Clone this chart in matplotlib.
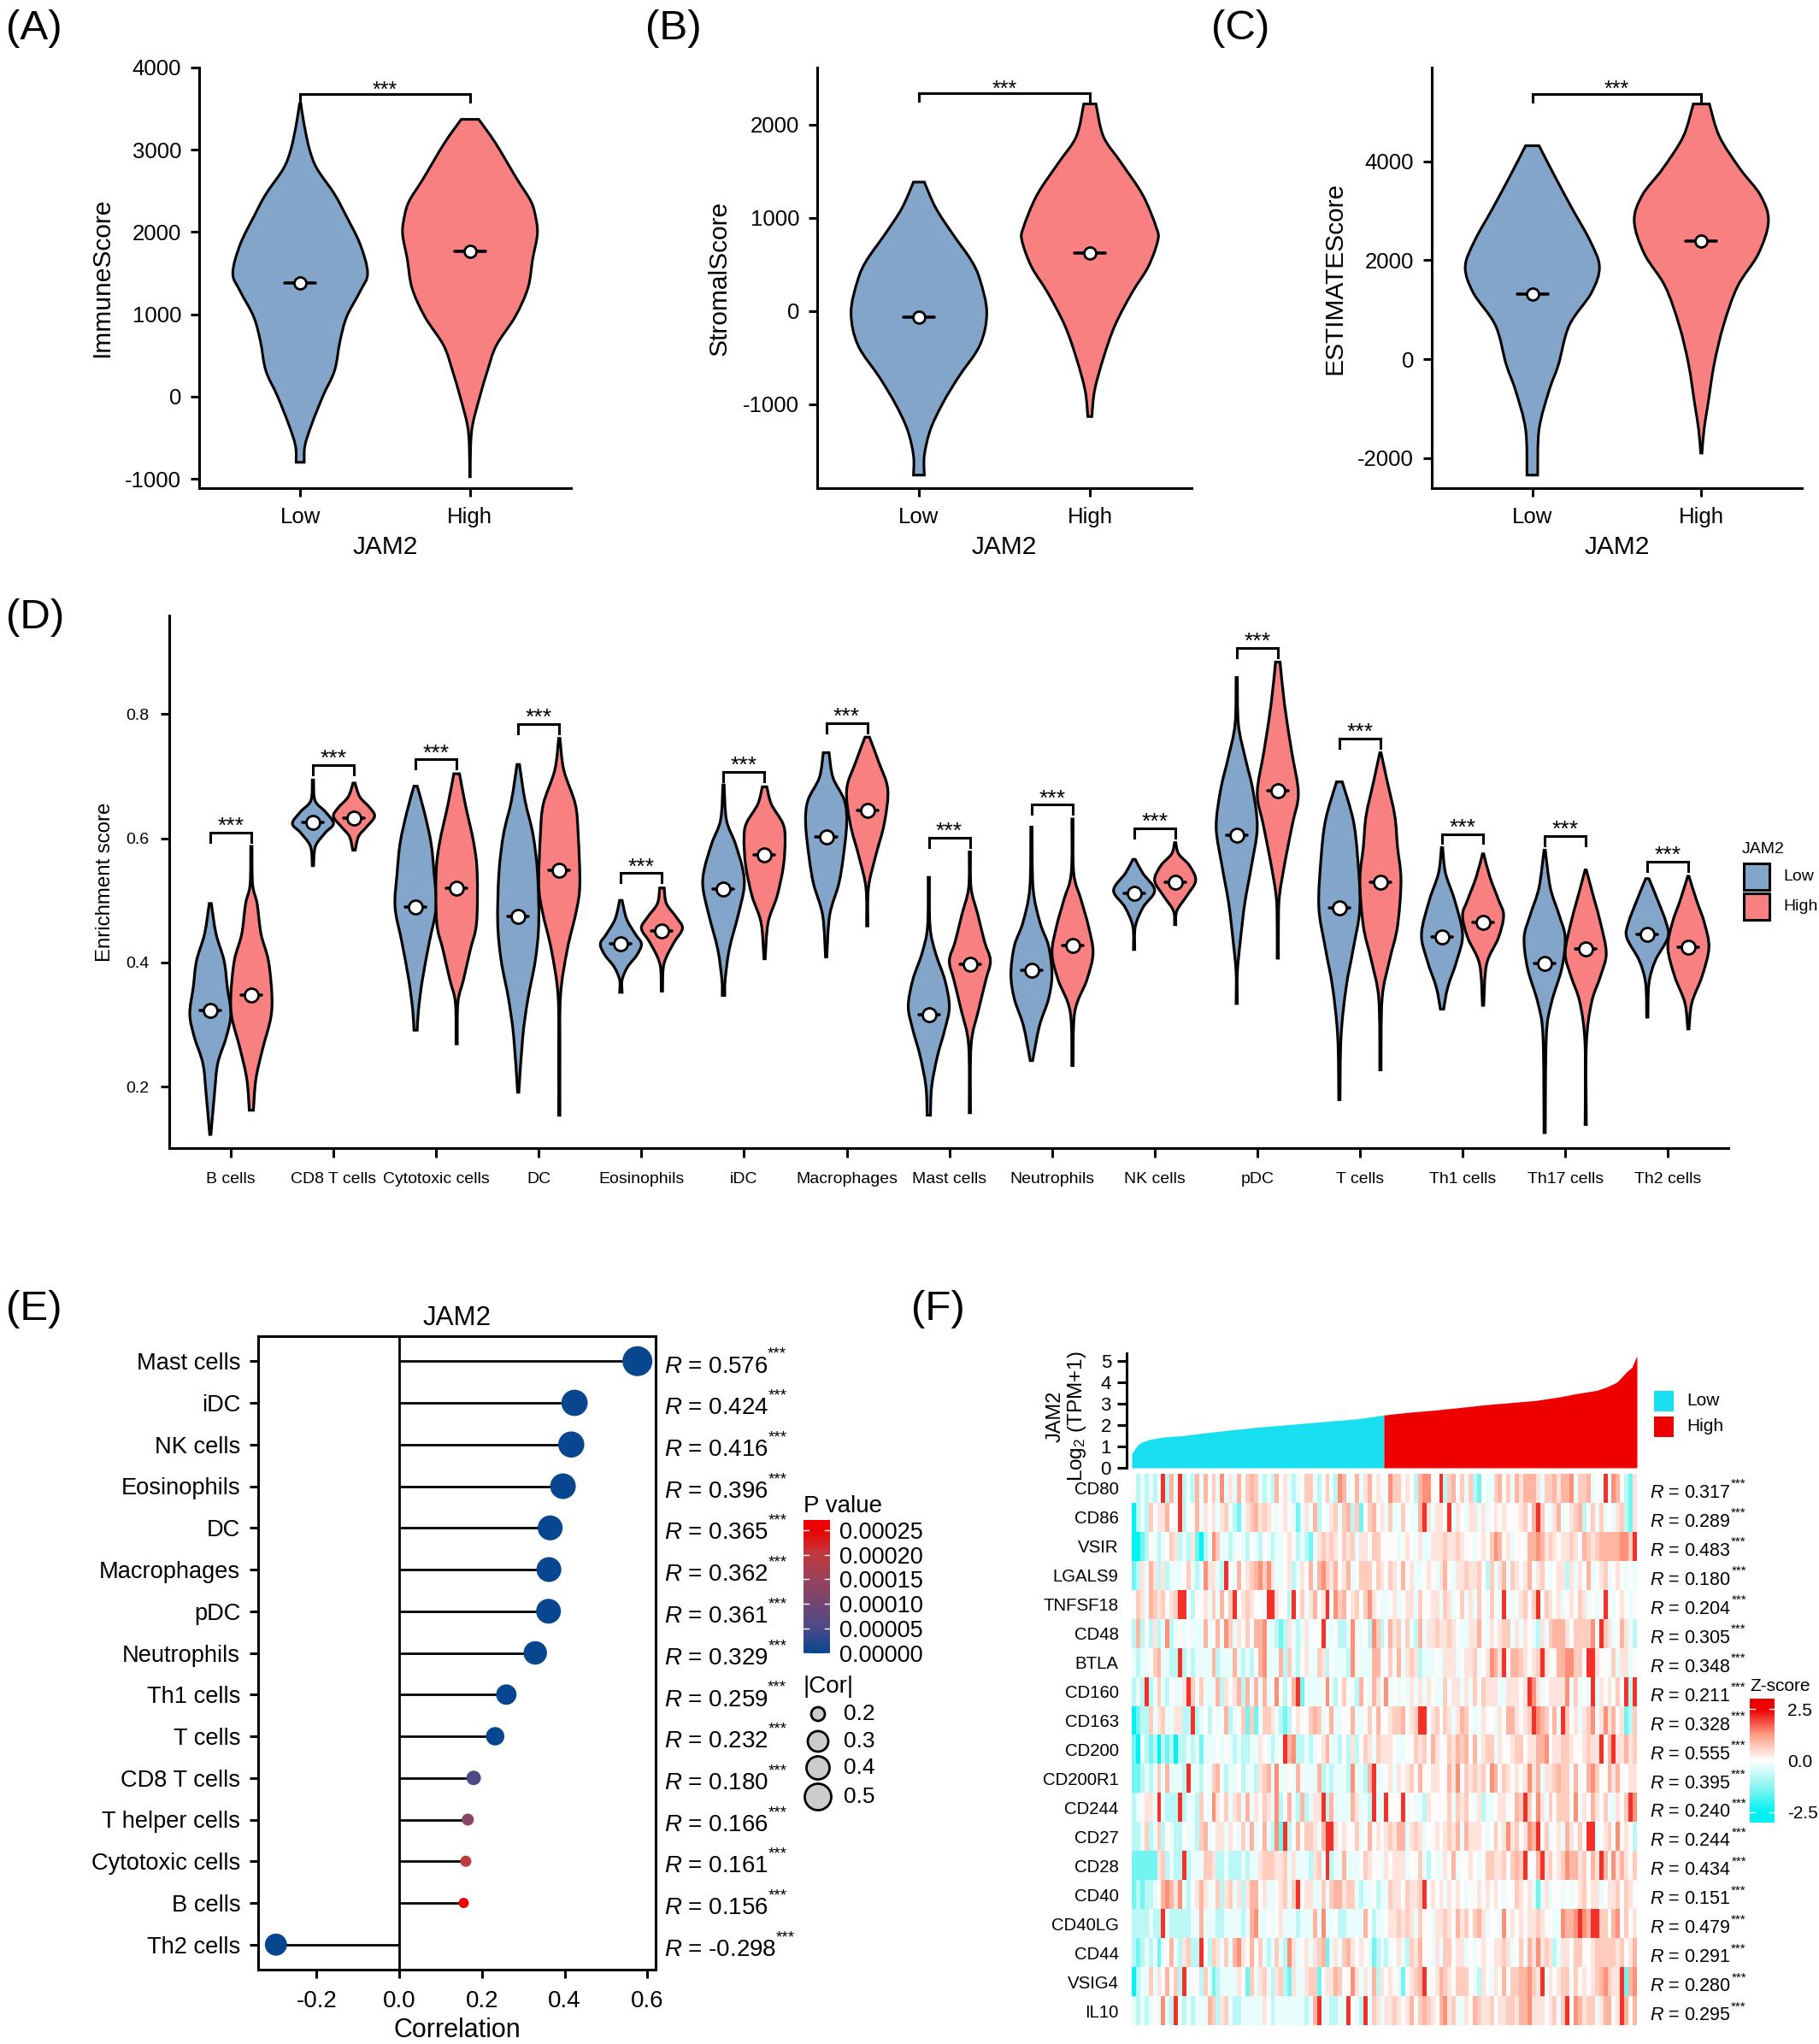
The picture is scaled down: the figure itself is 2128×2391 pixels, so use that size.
#!/usr/bin/env python3

import numpy as np
import matplotlib as mpl
mpl.use('Agg')
import matplotlib.pyplot as plt
from matplotlib.colors import LinearSegmentedColormap
from matplotlib.patches import PathPatch, Rectangle, Circle
from matplotlib.path import Path

plt.rcParams['font.family'] = ['Liberation Sans', 'DejaVu Sans']
plt.rcParams['mathtext.fontset'] = 'custom'
plt.rcParams['mathtext.rm'] = 'Liberation Sans'
plt.rcParams['mathtext.it'] = 'Liberation Sans:italic'
plt.rcParams['mathtext.bf'] = 'Liberation Sans:bold'
plt.rcParams['axes.unicode_minus'] = False

## Panels A-C: violin outlines, score value and relative density
groups = ['Low', 'High']

immune_low_y = [-800, -600, -340, 10, 315, 670, 970, 1280, 1500, 1850, 2200, 2460, 2770, 3000, 3300, 3560]
immune_low_d = [.06, .07, .17, .34, .51, .59, .69, .89, 1.0, .89, .68, .51, .25, .14, .06, .01]
immune_high_y = [-975, -600, -340, 10, 315, 620, 970, 1320, 1670, 1980, 2200, 2380, 2640, 3080, 3370]
immune_high_d = [.005, .01, .04, .15, .26, .39, .67, .86, .93, 1.0, .97, .9, .7, .38, .13]
immune_means = [1380, 1770]

stromal_low_y = [-1762, -1552, -1273, -993, -713, -364, -14, 335, 545, 825, 1105, 1385]
stromal_low_d = [.08, .08, .17, .35, .58, .9, 1.0, .9, .77, .5, .25, .08]
stromal_high_y = [-1133, -853, -503, -154, 196, 476, 755, 895, 1245, 1594, 1874, 2224]
stromal_high_d = [.03, .07, .2, .37, .62, .86, 1.0, .98, .78, .46, .2, .09]
stromal_means = [-70, 620]

estimate_low_y = [-2342, -1421, -632, -105, 684, 1342, 1868, 2395, 3053, 3710, 4316]
estimate_low_d = [.08, .1, .25, .39, .55, .88, 1.0, .86, .59, .33, .1]
estimate_high_y = [-1895, -1421, -895, -105, 684, 1474, 2132, 2790, 3316, 3842, 4500, 5158]
estimate_high_d = [.01, .04, .1, .19, .33, .54, .85, 1.0, .88, .58, .27, .12]
estimate_means = [1310, 2390]

## Panel D
cell_types = ['B cells', 'CD8 T cells', 'Cytotoxic cells', 'DC', 'Eosinophils', 'iDC', 'Macrophages',
              'Mast cells', 'Neutrophils', 'NK cells', 'pDC', 'T cells', 'Th1 cells', 'Th17 cells', 'Th2 cells']
enrich_low_means = [.323, .626, .490, .474, .430, .518, .602, .316, .387, .511, .605, .488, .441, .399, .445]
enrich_high_means = [.347, .633, .519, .549, .451, .573, .645, .397, .427, .530, .676, .529, .464, .422, .424]
enrich_brackets = [.609, .718, .727, .784, .544, .707, .786, .601, .654, .616, .907, .761, .607, .604, .562]

b_low_y = [.123, .187, .237, .280, .317, .360, .403, .446, .495]
b_low_d = [.03, .2, .36, .78, 1, .83, .67, .28, .05]
b_high_y = [.162, .212, .261, .310, .347, .403, .446, .495, .526, .587]
b_high_d = [.1, .22, .55, .94, 1, .83, .47, .28, .06, .03]
cd8_low_y = [.556, .587, .609, .624, .643, .661, .694]
cd8_low_d = [.03, .12, .6, 1, .6, .1, .03]
cd8_high_y = [.581, .603, .618, .635, .649, .667, .689]
cd8_high_d = [.06, .22, .6, 1, .78, .28, .05]
cyto_low_y = [.291, .323, .372, .433, .489, .544, .593, .643, .684]
cyto_low_d = [.08, .14, .33, .67, 1, .9, .75, .42, .08]
cyto_high_y = [.269, .335, .372, .421, .464, .544, .593, .655, .704]
cyto_high_d = [.03, .06, .33, .67, .97, 1, .83, .42, .14]
dc_low_y = [.191, .280, .341, .403, .464, .544, .606, .661, .719]
dc_low_d = [.03, .22, .47, .83, 1, .94, .72, .33, .06]
dc_high_y = [.154, .249, .347, .421, .483, .526, .606, .655, .710, .761]
dc_high_d = [.03, .03, .06, .39, .83, 1, .92, .78, .22, .03]
eos_low_y = [.352, .372, .393, .412, .430, .446, .470, .500]
eos_low_d = [.06, .06, .33, .78, 1, .7, .28, .06]
eos_high_y = [.354, .390, .409, .433, .455, .473, .495, .520]
eos_high_d = [.03, .06, .22, .6, 1, .7, .22, .11]
idc_low_y = [.347, .372, .421, .477, .520, .550, .593, .630, .686]
idc_low_d = [.06, .08, .28, .72, 1, .94, .56, .14, .03]
idc_high_y = [.406, .464, .507, .556, .599, .624, .655, .683]
idc_high_d = [.03, .17, .61, .92, 1, .89, .33, .11]
mac_low_y = [.409, .476, .526, .569, .624, .661, .698, .738]
mac_low_d = [.03, .17, .61, .83, 1, .89, .33, .14]
mac_high_y = [.459, .520, .569, .624, .679, .723, .763]
mac_high_d = [.03, .06, .39, .83, 1, .56, .11]
mast_low_y = [.154, .200, .249, .292, .329, .372, .415, .458, .537]
mast_low_d = [.08, .14, .42, .78, 1, .78, .33, .06, .03]
mast_high_y = [.158, .267, .323, .372, .403, .433, .477, .520, .578]
mast_high_d = [.03, .06, .42, .78, 1, .72, .39, .06, .03]
neu_low_y = [.242, .298, .341, .381, .427, .464, .520, .618]
neu_low_d = [.06, .39, .83, 1, .83, .42, .08, .03]
neu_high_y = [.234, .320, .372, .415, .458, .501, .544, .631]
neu_high_d = [.03, .11, .7, 1, .78, .42, .06, .03]
nk_low_y = [.421, .458, .489, .516, .544, .566]
nk_low_d = [.03, .06, .44, 1, .42, .06]
nk_high_y = [.461, .483, .507, .532, .556, .575, .593]
nk_high_d = [.03, .08, .56, 1, .7, .17, .03]
pdc_low_y = [.334, .384, .433, .495, .556, .618, .679, .729, .784, .859]
pdc_low_d = [.03, .03, .17, .39, .72, 1, .78, .42, .08, .03]
pdc_high_y = [.407, .458, .507, .569, .624, .673, .741, .815, .884]
pdc_high_d = [.03, .03, .08, .39, .72, 1, .67, .33, .11]
t_low_y = [.179, .280, .360, .421, .489, .569, .630, .691]
t_low_d = [.03, .08, .33, .67, 1, .89, .67, .14]
t_high_y = [.227, .341, .403, .458, .532, .587, .636, .692, .738]
t_high_d = [.03, .08, .44, .83, 1, .83, .7, .33, .03]
th1_low_y = [.325, .360, .403, .446, .501, .544, .585]
th1_low_d = [.08, .28, .72, 1, .61, .17, .03]
th1_high_y = [.331, .397, .440, .476, .501, .538, .575]
th1_high_d = [.03, .17, .75, 1, .75, .33, .03]
th17_low_y = [.126, .280, .335, .390, .440, .477, .520, .581]
th17_low_d = [.03, .08, .33, .83, 1, .7, .28, .03]
th17_high_y = [.139, .267, .335, .378, .415, .464, .501, .549]
th17_high_d = [.03, .03, .28, .72, 1, .72, .42, .03]
th2_low_y = [.312, .366, .403, .440, .464, .501, .535]
th2_low_d = [.03, .08, .39, 1, .92, .5, .08]
th2_high_y = [.293, .335, .378, .424, .464, .501, .539]
th2_high_d = [.03, .17, .67, 1, .78, .39, .03]

enrich_low = [(b_low_y, b_low_d), (cd8_low_y, cd8_low_d), (cyto_low_y, cyto_low_d), (dc_low_y, dc_low_d),
              (eos_low_y, eos_low_d), (idc_low_y, idc_low_d), (mac_low_y, mac_low_d), (mast_low_y, mast_low_d),
              (neu_low_y, neu_low_d), (nk_low_y, nk_low_d), (pdc_low_y, pdc_low_d), (t_low_y, t_low_d),
              (th1_low_y, th1_low_d), (th17_low_y, th17_low_d), (th2_low_y, th2_low_d)]
enrich_high = [(b_high_y, b_high_d), (cd8_high_y, cd8_high_d), (cyto_high_y, cyto_high_d), (dc_high_y, dc_high_d),
               (eos_high_y, eos_high_d), (idc_high_y, idc_high_d), (mac_high_y, mac_high_d), (mast_high_y, mast_high_d),
               (neu_high_y, neu_high_d), (nk_high_y, nk_high_d), (pdc_high_y, pdc_high_d), (t_high_y, t_high_d),
               (th1_high_y, th1_high_d), (th17_high_y, th17_high_d), (th2_high_y, th2_high_d)]

## Panel E
lolli_names = ['Mast cells', 'iDC', 'NK cells', 'Eosinophils', 'DC', 'Macrophages', 'pDC', 'Neutrophils',
               'Th1 cells', 'T cells', 'CD8 T cells', 'T helper cells', 'Cytotoxic cells', 'B cells', 'Th2 cells']
lolli_r = [.576, .424, .416, .396, .365, .362, .361, .329, .259, .232, .180, .166, .161, .156, -.298]
lolli_p = [0, 0, 0, 0, 0, 0, 0, 0, 0, 0, .00005, .00013, .0002, .00025, 0]
pvalue_ticks = [0, .00005, .0001, .00015, .0002, .00025]
cor_legend = [.2, .3, .4, .5]

## Panel F
jam2_frac = [0, .005, .012, .02, .036, .06, .08, .1, .15, .2, .25, .3, .35, .4, .45, .499, .55, .6, .65, .7,
             .75, .8, .85, .88, .92, .94, .96, .98, .99, 1]
jam2_expr = [.67, .85, 1.07, 1.2, 1.33, 1.43, 1.47, 1.5, 1.65, 1.78, 1.9, 2.0, 2.1, 2.2, 2.3, 2.47, 2.6, 2.7,
             2.82, 2.95, 3.05, 3.15, 3.33, 3.47, 3.62, 3.78, 4.0, 4.5, 4.7, 5.25]
genes = ['CD80', 'CD86', 'VSIR', 'LGALS9', 'TNFSF18', 'CD48', 'BTLA', 'CD160', 'CD163', 'CD200', 'CD200R1',
         'CD244', 'CD27', 'CD28', 'CD40', 'CD40LG', 'CD44', 'VSIG4', 'IL10']
gene_r = [.317, .289, .483, .180, .204, .305, .348, .211, .328, .555, .395, .240, .244, .434, .151, .479, .291, .280, .295]

# Heatmap stripes as read by eye, one digit per stripe, 0 = cyan, 4 = white, 9 = red
zlevels = [-2.5, -1.5, -.75, -.25, .05, .35, .65, .95, 1.35, 2.1]
heat_left = [
  '423232492739232737463835374676323274532346632463287347357453',
  '023264557439244735453563213567565434543135372435636726146745',
  '001243234652325102386332343243243233454232135656546563554664',
  '125375252333463238553294374567868533452354737865745734666465',
  '465376564569932445363746945654439954429463574594867456468543',
  '272425238234343337347386354647783321253235344933422384342862',
  '323346733229232333372333732324783337263245336524333284333773',
  '232923632433596463337254572737373484247913333483246432743753',
  '012263563355229234243472346161366532124544676347334473346474',
  '103212021202232313334343232233543234978223234573324252465365',
  '112323637333293324367323342332567383343743337232333283327933',
  '234553932229233264385463563735465382473272355927333375332933',
  '223623624322433267345535436373473281924746653799545446347454',
  '111111562322923336652232223233566655635333256392337333465443',
  '121223478758324575346256352577453345636945533636775663233423',
  '222232293222223373332233332378334345333233373833422333374233',
  '212323134732562294265363785474632363285345356713536754543123',
  '023363547462934426312333354163563256215335661455764485353725',
  '323234383293232333762563223333354233333332379332233943293653',
]
heat_right = [
  '486645427884492674636214336746375777536675778366734393874215',
  '363364337953554935435535345454445647964357345672463634356215',
  '444345435335556556544345468745344477875654556547656777778869',
  '465474533454357435565564263573654574564345525354734563454343',
  '345345536445536534635364364394345646946545345465343494345434',
  '475636327355655654335574354566353543253677754666684965347532',
  '464735652333435553455634587594776545695447788664995443635534',
  '834343535354336455353646555335554598534555583634393545464929',
  '456674569945646535764335443547754569876473964535684585745126',
  '554334465647544657674735663544566455778455665445655947955756',
  '453545647445544758465656487465454585735567663744786447574455',
  '944493433254444636564352334554476964853646664835475463354698',
  '565773565344545657375554346458564587946345375464993456484542',
  '545553446324335473445434665564676944795645687756475973857546',
  '365546556945453545434454545434465453135344343456455345564654',
  '455656536443556547564675344384545455654433877898799664784645',
  '234532657443536645534345445565346375856523554664456666656457',
  '454314567944576546664325435474667786593545664645456786559178',
  '556545746765478563354765564556657785554563694875663577459747',
]

## Panel letters, values and styles
panel_letters = ['(A)', '(B)', '(C)', '(D)', '(E)', '(F)']
letter_xy = [(7, 33), (755, 33), (1417, 33), (7, 723), (7, 1531), (1066, 1531)]

BLUE = '#82a5c9'
RED = '#f98080'
W, H = 2128, 2391

fig = plt.figure(figsize = (W / 100, H / 100), dpi = 100)

def px(v):
  return v * 0.72

def add_axes_px(left, top, right, bottom):
  return fig.add_axes([left / W, 1 - bottom / H, (right - left) / W, (bottom - top) / H])

def fig_text(x, y, s, **kw):
  kw.setdefault('va', 'center')
  return fig.text(x / W, 1 - y / H, s, **kw)

# Catmull-Rom through the read points, so the outline is not angular
def spline(points):
  pts = np.array(points, dtype = float)
  verts = []
  for i in range(len(pts) - 1):
    p0 = pts[max(i - 1, 0)]
    p1 = pts[i]
    p2 = pts[i + 1]
    p3 = pts[min(i + 2, len(pts) - 1)]
    verts += [p1 + (p2 - p0) / 6, p2 - (p3 - p1) / 6, p2]
  return verts

def draw_violin(ax, x, ys, ds, width, color, lw):
  left = [(x - d * width, y) for y, d in zip(ys, ds)]
  right = [(x + d * width, y) for y, d in zip(ys[::-1], ds[::-1])]
  verts = [left[0]] + spline(left) + [right[0]] + spline(right) + [left[0]]
  n = (len(left) - 1) * 3
  codes = [Path.MOVETO] + [Path.CURVE4] * n + [Path.LINETO] + [Path.CURVE4] * n + [Path.CLOSEPOLY]
  ax.add_patch(PathPatch(Path(verts, codes), facecolor = color, edgecolor = 'black', lw = lw, zorder = 2))

def draw_mean(ax, x, y, half_bar, size):
  ax.plot([x - half_bar, x + half_bar], [y, y], color = 'black', lw = 2.6, zorder = 3, solid_capstyle = 'round')
  ax.plot([x], [y], 'o', mfc = 'white', mec = 'black', mew = 2.0, ms = px(size), zorder = 4)

def draw_bracket(ax, x0, x1, y, tip, star_size, star_gap):
  ax.plot([x0, x0, x1, x1], [y - tip, y, y, y - tip], color = 'black', lw = 2.2, zorder = 3, solid_joinstyle = 'miter')
  ax.annotate('***', ((x0 + x1) / 2, y), xytext = (0, star_gap), textcoords = 'offset points',
              ha = 'center', va = 'center', fontsize = star_size)

def r_label(ax, xy, r, offset, size, star_size, star_lift):
  label = ax.annotate('$\\mathit{R}$ = %.3f' % r, xy, xycoords = ('axes fraction', 'data'),
                      xytext = offset, textcoords = 'offset points', ha = 'left', va = 'center', fontsize = size)
  ax.annotate('***', (1, 0.5), xycoords = label, xytext = (0, star_lift), textcoords = 'offset points',
              ha = 'left', va = 'baseline', fontsize = star_size)

def style_axes(ax):
  for side in ['top', 'right']:
    ax.spines[side].set_visible(False)
  for side in ['left', 'bottom']:
    ax.spines[side].set_linewidth(2.2)
  ax.tick_params(width = 2.2, length = 7)

def score_panel(box, ylim, yticks, label, low, high, means, bracket_y):
  ax = add_axes_px(*box)
  style_axes(ax)
  ax.set_xlim(0.405, 2.595)
  ax.set_ylim(*ylim)
  draw_violin(ax, 1, low[0], low[1], 0.397, BLUE, 2.2)
  draw_violin(ax, 2, high[0], high[1], 0.397, RED, 2.2)
  half = 18 / (box[2] - box[0]) * 2.19
  draw_mean(ax, 1, means[0], half, 14)
  draw_mean(ax, 2, means[1], half, 14)
  draw_bracket(ax, 1, 2, bracket_y, 9 / (box[3] - box[1]) * (ylim[1] - ylim[0]), 18, 3)
  ax.set_xticks([1, 2], groups)
  ax.set_yticks(yticks)
  ax.tick_params(axis = 'both', labelsize = 18.5, pad = 8)
  ax.tick_params(axis = 'x', pad = 9)
  ax.set_ylabel(label, fontsize = 21.5, va = 'center')
  ax.yaxis.set_label_coords(-114 / (box[2] - box[0]), 0.5)
  ax.set_xlabel('JAM2', fontsize = 21.5, va = 'center')
  ax.xaxis.set_label_coords(0.5, -69 / (box[3] - box[1]))
  return ax

score_panel((233, 79, 668, 571), (-1114, 4000), [-1000, 0, 1000, 2000, 3000, 4000], 'ImmuneScore',
            (immune_low_y, immune_low_d), (immune_high_y, immune_high_d), immune_means, 3678)
score_panel((956, 79, 1394, 571), (-1902, 2615), [-1000, 0, 1000, 2000], 'StromalScore',
            (stromal_low_y, stromal_low_d), (stromal_high_y, stromal_high_d), stromal_means, 2336)
score_panel((1675, 79, 2108, 571), (-2605, 5895), [-2000, 0, 2000, 4000], 'ESTIMATEScore',
            (estimate_low_y, estimate_low_d), (estimate_high_y, estimate_high_d), estimate_means, 5368)

## Panel D
ax = add_axes_px(198, 720, 2022, 1343)
style_axes(ax)
ax.set_xlim(0.4, 15.59)
ax.set_ylim(0.101, 0.959)
for i in range(len(cell_types)):
  pos = i + 1
  draw_violin(ax, pos - 0.2, enrich_low[i][0], enrich_low[i][1], 0.2, BLUE, 2.3)
  draw_violin(ax, pos + 0.2, enrich_high[i][0], enrich_high[i][1], 0.2, RED, 2.3)
  draw_mean(ax, pos - 0.2, enrich_low_means[i], 0.1, 16)
  draw_mean(ax, pos + 0.2, enrich_high_means[i], 0.1, 16)
  draw_bracket(ax, pos - 0.2, pos + 0.2, enrich_brackets[i], 0.015, 19, 5)
ax.set_xticks(range(1, len(cell_types) + 1), cell_types)
ax.set_yticks([0.2, 0.4, 0.6, 0.8])
ax.tick_params(axis = 'both', labelsize = 14)
ax.tick_params(axis = 'x', pad = 12, length = 8)
ax.tick_params(axis = 'y', pad = 10)
ax.set_ylabel('Enrichment score', fontsize = 17.3, va = 'center')
ax.yaxis.set_label_coords(-75 / 1824, 0.5)

fig_text(2038, 993, 'JAM2', fontsize = 14)
for y0, color, name in [(1010, BLUE, 'Low'), (1045, RED, 'High')]:
  fig.add_artist(Rectangle((2040 / W, 1 - (y0 + 31) / H), 30 / W, 31 / H, transform = fig.transFigure,
                           facecolor = color, edgecolor = 'black', lw = 2.2))
  fig_text(2086, y0 + 16, name, fontsize = 14)

## Panel E
ax = add_axes_px(302, 1563, 767, 2304)
for spine in ax.spines.values():
  spine.set_linewidth(2.2)
pcmap = LinearSegmentedColormap.from_list('pv', [(0, '#08478f'), (.2, '#4d4a8a'), (.52, '#8a4565'), (.8, '#c03a3f'), (1, '#f00000')])
xs = np.array(lolli_r)
ys = np.arange(len(lolli_names))
ax.set_xlim(-.341, .620)
ax.set_ylim(len(lolli_names) - 0.4, -0.6)
ax.axvline(0, color = 'black', lw = 2.0, zorder = 1)
ax.hlines(ys, 0, xs, color = 'black', lw = 2.0, zorder = 2)
dot_px = np.interp(np.abs(xs), [.156, .18, .26, .36, .576], [12, 17, 24, 29, 35])
ax.scatter(xs, ys, s = px(dot_px) ** 2, c = lolli_p, cmap = pcmap, vmin = 0, vmax = .00025, zorder = 3, linewidths = 0)
ax.set_xticks([-.2, 0, .2, .4, .6], ['-0.2', '0.0', '0.2', '0.4', '0.6'])
ax.set_yticks(ys, lolli_names)
ax.tick_params(axis = 'both', width = 2.2, length = 7)
ax.tick_params(axis = 'x', labelsize = 20, pad = 10)
ax.tick_params(axis = 'y', labelsize = 19.6, pad = 8)
ax.set_title('JAM2', fontsize = 22.5, pad = 9)
ax.set_xlabel('Correlation', fontsize = 22, va = 'center')
ax.xaxis.set_label_coords(0.5, -71 / 741)
for y, r in zip(ys, lolli_r):
  r_label(ax, (1, y), r, (7, -4.5), 20, 13.5, 7)

cax = add_axes_px(940, 1778, 971, 1936)
cax.imshow(np.linspace(1, 0, 256).reshape(-1, 1) * .00027, cmap = pcmap, vmin = 0, vmax = .00025,
           aspect = 'auto', extent = (0, 1, 0, .00027))
cax.set_xticks([])
cax.yaxis.tick_right()
cax.set_yticks(pvalue_ticks, ['%.5f' % t for t in pvalue_ticks])
cax.tick_params(axis = 'y', labelsize = 19.5, length = 0, pad = 8)
for t in pvalue_ticks:
  cax.plot([0, .2], [t, t], color = 'white', lw = 1)
  cax.plot([.8, 1], [t, t], color = 'white', lw = 1)
cax.set_xlim(0, 1)
cax.set_ylim(-.000003, .00027)
for spine in cax.spines.values():
  spine.set_visible(False)
fig_text(940, 1762, 'P value', fontsize = 20)

fig_text(940, 1973, '|Cor|', fontsize = 20)
legend_ax = add_axes_px(930, 1985, 1030, 2125)
legend_ax.set_xlim(930, 1030)
legend_ax.set_ylim(2125, 1985)
legend_ax.axis('off')
for c, cy in zip(cor_legend, [2005, 2037, 2068, 2102]):
  d = np.interp(c, [.2, .3, .4, .5], [16, 24, 27, 31])
  legend_ax.add_patch(Circle((957, cy), d / 2, facecolor = '#cccccc', edgecolor = 'black', lw = 2))
  legend_ax.text(987, cy, '%.1f' % c, fontsize = 19, va = 'center')

## Panel F
ax = add_axes_px(1318, 1583, 1915, 1717)
for side in ['top', 'right', 'bottom']:
  ax.spines[side].set_visible(False)
ax.spines['left'].set_linewidth(2.2)
frac = np.array(jam2_frac)
expr = np.array(jam2_expr)
ax.set_xlim(-6 / 591, 1)
ax.set_ylim(0, 5.36)
is_low = frac <= .499
ax.fill_between(frac[is_low], 0, expr[is_low], color = '#18e0f0', lw = 0)
ax.fill_between(frac[~is_low | (frac == .499)], 0, expr[~is_low | (frac == .499)], color = '#ee0000', lw = 0)
ax.set_xticks([])
ax.set_yticks(range(6))
ax.tick_params(axis = 'y', labelsize = 16, width = 2.2, length = 8, pad = 5)
fig_text(1235, 1657, 'JAM2', fontsize = 17, rotation = 90, ha = 'center')
fig_text(1260, 1657, 'Log$_2$ (TPM+1)', fontsize = 17.5, rotation = 90, ha = 'center')
for y0, color, name in [(1627, '#18e0f0', 'Low'), (1657, '#ee0000', 'High')]:
  fig.add_artist(Rectangle((1935 / W, 1 - (y0 + 24) / H), 23 / W, 24 / H, transform = fig.transFigure, facecolor = color, lw = 0))
  fig_text(1973, y0 + 12, name, fontsize = 15)

zcmap = LinearSegmentedColormap.from_list('z', ['#00f2f5', '#8ff5f0', '#ffffff', '#ff9f85', '#ee0000'])
ax = add_axes_px(1324, 1724, 1915, 2369)
n_rows = len(genes)
for i in range(n_rows):
  row = [zlevels[int(c)] for c in heat_left[i]] + [zlevels[int(c)] for c in heat_right[i]]
  ax.imshow([row], cmap = zcmap, vmin = -2.5, vmax = 2.5, aspect = 'auto', extent = (0, 1, i + 1, i), interpolation = 'nearest')
ax.set_xlim(0, 1)
ax.set_ylim(n_rows, 0)
ax.set_xticks([])
ax.set_yticks(np.arange(n_rows) + 0.5, genes)
ax.tick_params(axis = 'y', length = 0, labelsize = 14.7, pad = 11)
for spine in ax.spines.values():
  spine.set_visible(False)
for i, r in enumerate(gene_r):
  r_label(ax, (1, i + 0.5), r, (11, -4), 15.5, 11, 4.5)

cax = add_axes_px(2047, 1987, 2076, 2132)
cax.imshow(np.linspace(3, -3, 256).reshape(-1, 1), cmap = zcmap, vmin = -2.5, vmax = 2.5, aspect = 'auto', extent = (0, 1, -3, 3))
cax.set_xticks([])
cax.yaxis.tick_right()
cax.set_yticks([-2.5, 0, 2.5], ['-2.5', '0.0', '2.5'])
cax.tick_params(axis = 'y', labelsize = 15, length = 0, pad = 11)
for t in [-2.5, 2.5]:
  cax.plot([0, .2], [t, t], color = 'white', lw = 1)
  cax.plot([.8, 1], [t, t], color = 'white', lw = 1)
cax.set_xlim(0, 1)
cax.set_ylim(-3, 3)
for spine in cax.spines.values():
  spine.set_visible(False)
fig_text(2047, 1972, 'Z-score', fontsize = 15)

for letter, (x, y) in zip(panel_letters, letter_xy):
  fig_text(x, y, letter, fontsize = 35.5)

fig.savefig('out.png', dpi = 100, facecolor = 'white')
